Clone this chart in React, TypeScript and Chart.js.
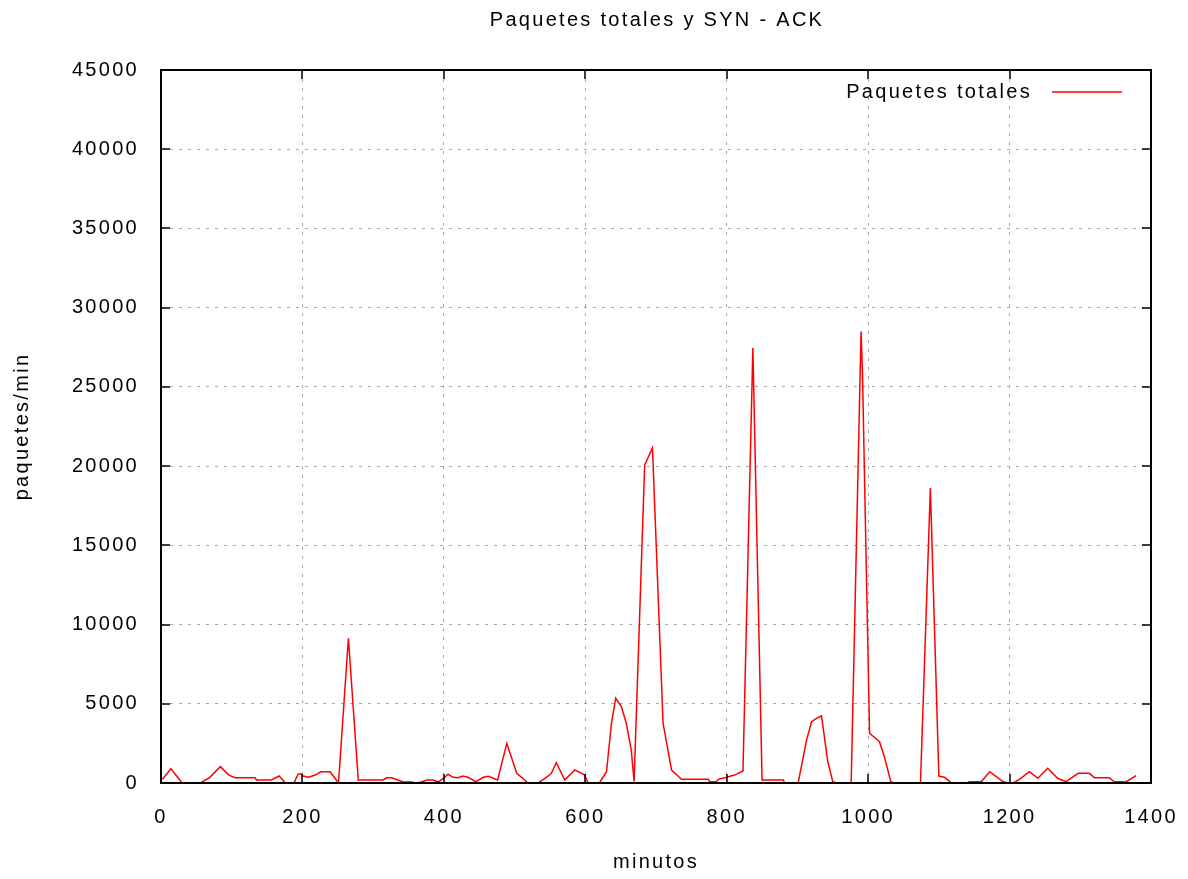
import React, { useEffect, useRef } from 'react';
import { Chart, registerables } from 'chart.js';

Chart.register(...registerables);

// Time (minutes) of each vertex of the series, and total packets per minute
const minutes = [
  2, 14, 30, 56, 69, 84, 96, 105, 133, 135, 156, 167, 176, 188, 194, 199, 201, 209, 218, 226,
  239, 245, 251, 265, 279, 314, 319, 326, 335, 343, 354, 361, 368, 376, 385, 392, 401, 406, 413, 420,
  427, 434, 445, 456, 463, 476, 489, 503, 510, 519, 533, 545, 552, 559, 571, 585, 595, 599, 604, 620,
  630, 637, 643, 651, 658, 665, 669, 684, 695, 710, 722, 736, 774, 776, 785, 788, 800, 811, 823, 837,
  850, 880, 882, 901, 913, 920, 927, 934, 943, 950, 955, 976, 990, 992, 1002, 1016, 1023, 1032, 1036, 1074,
  1088, 1100, 1108, 1118, 1140, 1143, 1150, 1160, 1172, 1191, 1199, 1205, 1214, 1228, 1240, 1254, 1268, 1280, 1297, 1313,
  1320, 1341, 1348, 1365, 1379,
];
const packets = [
  230, 900, 0, 0, 360, 1030, 500, 330, 330, 190, 190, 440, 0, 0, 570, 570, 440, 360, 500, 710,
  710, 360, 0, 9135, 190, 190, 330, 330, 190, 60, 60, 0, 60, 190, 190, 60, 360, 550, 360, 330,
  440, 360, 80, 360, 420, 190, 2500, 610, 360, 0, 0, 360, 610, 1280, 190, 820, 610, 500, 0, 0,
  710, 3770, 5350, 4820, 3770, 2080, 100, 20080, 21150, 3770, 820, 230, 230, 80, 80, 230, 360, 500, 760, 27460,
  190, 190, 0, 0, 2720, 3870, 4080, 4230, 1340, 80, 0, 0, 28490, 25800, 3140, 2610, 1660, 80, 0, 0,
  18620, 440, 360, 0, 0, 80, 80, 80, 710, 80, 0, 0, 230, 710, 300, 930, 300, 80, 610, 610,
  330, 330, 80, 80, 460,
];

const xTickValues = [0, 200, 400, 600, 800, 1000, 1200, 1400];
const yTickValues = [0, 5000, 10000, 15000, 20000, 25000, 30000, 35000, 40000, 45000];

const TITLE = 'Paquetes totales y SYN - ACK';
const SERIES_LABEL = 'Paquetes totales';
const X_TITLE = 'minutos';
const Y_TITLE = 'paquetes/min';

const FONT_FAMILY = '"Liberation Sans", Arial, sans-serif';
const FONT_SIZE = 20;
const SPACING = '2.3px';
const RED = '#ff0000';

export default function App() {
  const ref = useRef<HTMLCanvasElement | null>(null);

  useEffect(() => {
    document.body.style.margin = '0';
    const canvas = ref.current;
    if (!canvas) return;

    const spacingPlugin = {
      id: 'letterSpacing',
      beforeUpdate(chart: any) {
        chart.ctx.letterSpacing = SPACING;
      },
      beforeDraw(chart: any) {
        chart.ctx.letterSpacing = SPACING;
      },
    };

    const framePlugin = {
      id: 'gnuFrame',
      afterDatasetsDraw(chart: any) {
        const { ctx, chartArea, scales } = chart;
        const { left, right, top, bottom } = chartArea;
        const x = scales.x;
        const y = scales.y;
        ctx.save();
        ctx.strokeStyle = '#000';
        ctx.lineWidth = 1.5;
        ctx.setLineDash([]);
        ctx.beginPath();
        xTickValues.forEach((v) => {
          const px = Math.round(x.getPixelForValue(v));
          ctx.moveTo(px, bottom);
          ctx.lineTo(px, bottom - 9);
          ctx.moveTo(px, top);
          ctx.lineTo(px, top + 9);
        });
        yTickValues.forEach((v) => {
          const py = Math.round(y.getPixelForValue(v));
          ctx.moveTo(left, py);
          ctx.lineTo(left + 9, py);
          ctx.moveTo(right, py);
          ctx.lineTo(right - 9, py);
        });
        ctx.stroke();
        ctx.lineWidth = 2;
        ctx.strokeRect(left, top, right - left, bottom - top);

        ctx.letterSpacing = SPACING;
        ctx.font = `${FONT_SIZE}px ${FONT_FAMILY}`;
        ctx.fillStyle = '#000';
        ctx.textBaseline = 'middle';

        // title, centred over the plot
        ctx.textAlign = 'center';
        ctx.fillText(TITLE, (left + right) / 2 + 1, 20);

        // key (legend) in the top-right corner of the plot
        ctx.textAlign = 'right';
        const keyY = top + 22;
        ctx.fillText(SERIES_LABEL, right - 119, keyY);
        ctx.strokeStyle = RED;
        ctx.lineWidth = 1.5;
        ctx.beginPath();
        ctx.moveTo(right - 99, keyY);
        ctx.lineTo(right - 29, keyY);
        ctx.stroke();
        ctx.restore();
      },
    };

    const font = { family: FONT_FAMILY, size: FONT_SIZE, weight: 'normal' as const };

    const chart = new Chart(canvas, {
      type: 'line',
      data: {
        datasets: [
          {
            label: SERIES_LABEL,
            data: minutes.map((m, i) => ({ x: m, y: packets[i] })),
            borderColor: RED,
            backgroundColor: RED,
            borderWidth: 1.5,
            pointRadius: 0,
            tension: 0,
            fill: false,
          },
        ],
      },
      options: {
        responsive: false,
        animation: false,
        events: [],
        layout: { padding: { left: 0, right: 37, top: 70, bottom: 0 } },
        plugins: {
          legend: { display: false },
          tooltip: { enabled: false },
          title: { display: false },
        },
        scales: {
          x: {
            type: 'linear',
            min: 0,
            max: 1400,
            afterBuildTicks(scale: any) {
              scale.ticks = xTickValues.map((v) => ({ value: v }));
            },
            afterFit(scale: any) {
              scale.height = 96;
              scale.paddingLeft = 0;
              scale.paddingRight = 0;
            },
            ticks: {
              color: '#000',
              font,
              padding: 22,
              maxRotation: 0,
              autoSkip: false,
              callback: (v: any) => String(v),
            },
            grid: { color: '#a8a8a8', lineWidth: 1, drawTicks: false },
            border: { display: false, dash: [3, 6] },
            title: {
              display: true,
              text: X_TITLE,
              color: '#000',
              font,
              padding: { top: 0, bottom: 5 },
            },
          },
          y: {
            type: 'linear',
            min: 0,
            max: 45000,
            afterBuildTicks(scale: any) {
              scale.ticks = yTickValues.map((v) => ({ value: v }));
            },
            afterFit(scale: any) {
              scale.width = 161;
              scale.paddingTop = 0;
              scale.paddingBottom = 0;
            },
            ticks: {
              color: '#000',
              font,
              padding: 22,
              autoSkip: false,
              callback: (v: any) => String(v),
            },
            grid: { color: '#a8a8a8', lineWidth: 1, drawTicks: false },
            border: { display: false, dash: [3, 6] },
            title: {
              display: true,
              text: Y_TITLE,
              color: '#000',
              font,
              padding: { top: 10, bottom: 0 },
            },
          },
        },
      },
      plugins: [spacingPlugin, framePlugin],
    } as any);

    return () => {
      chart.destroy();
    };
  }, []);

  return (
    <div style={{ position: 'absolute', left: 0, top: 0, width: 1188, height: 879, background: '#fff' }}>
      <canvas ref={ref} width={1188} height={879} style={{ display: 'block' }} />
    </div>
  );
}
